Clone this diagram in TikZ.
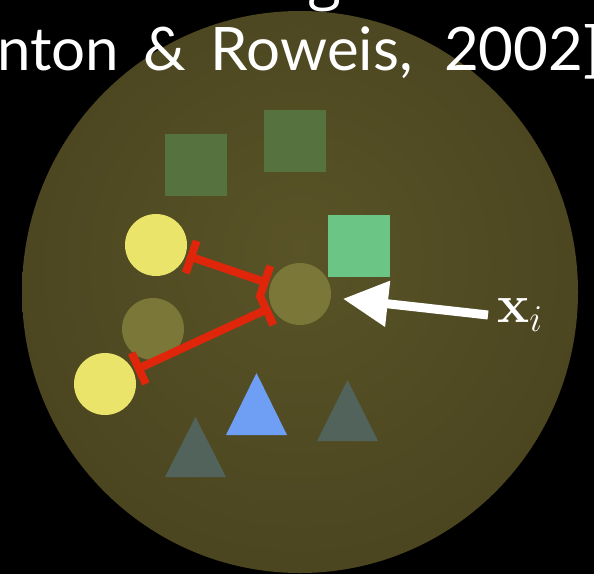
\documentclass[tikz,border=0pt]{standalone}
\usepackage{fix-cm}
\usepackage[no-math]{fontspec}
\newfontfamily\titlefont[WordSpace=1.6]{Lato}
\newfontfamily\gfont{Open Sans}
\usetikzlibrary{arrows.meta,positioning}
\usepackage{xcolor}
\definecolor{sneInner}{RGB}{89,83,39}
\definecolor{sneOuter}{RGB}{62,58,26}
\definecolor{sneYellow}{RGB}{235,228,106}
\definecolor{sneOlive}{RGB}{122,119,56}
\definecolor{sneDull}{RGB}{86,115,63}
\definecolor{sneGreen}{RGB}{107,197,132}
\definecolor{sneBlue}{RGB}{111,158,245}
\definecolor{sneSlate}{RGB}{82,99,91}
\definecolor{sneRed}{RGB}{224,38,10}
\pgfdeclareradialshading{sneglow}{\pgfpoint{0bp}{4bp}}{color(0bp)=(sneInner); color(50bp)=(sneOuter)}
\tikzset{
    dot/.style={
        circle,fill=#1,minimum size=62pt,inner sep=0pt
    },
    dot/.default=sneYellow,
    patch/.style={
        rectangle,fill=#1,minimum size=62pt,inner sep=0pt
    },
    patch/.default=sneDull,
    pull/.style={
        {Bar[width=34pt]}-{Bar[width=34pt]},line width=8pt,draw=sneRed,
        shorten <=2pt,shorten >=2pt
    },
    pointer/.style={
        -{Triangle[length=45pt,width=44pt]},line width=9pt,draw=white,
        shorten >=12pt
    },
    bigtext/.style={
        text=white,inner sep=0pt,font=#1\fontsize{60}{66}\selectfont
    }
}
\begin{document}
\begin{tikzpicture}[x=1pt,y=-1pt]

\useasboundingbox (0,0) rectangle (594,574);
\fill[black] (0,0) rectangle (594,574);
\clip (0,0) rectangle (594,574);

\shade[shading=sneglow] (300,292) ellipse [x radius=278pt,y radius=281pt];

\node[bigtext=\gfont,anchor=base] (gpart) at (325,-3) {g};
\node[bigtext=\titlefont,anchor=base west] (cite) at (-3,70)
{nton \& Roweis,\hspace{7pt} 2002]};

\node[patch] (sqa) at (196,165) {};
\node[patch] (sqb) at (295,141) {};
\node[patch=sneGreen] (sqc) at (359,246) {};

\fill[sneSlate] (165,477) -- (226,477) -- (195.5,417) -- cycle;
\fill[sneBlue] (226,435) -- (287,435) -- (256.5,373) -- cycle;
\fill[sneSlate] (317,441) -- (378,441) -- (347.5,380) -- cycle;

\node[dot] (ya) at (156,245) {};
\node[dot] (yb) at (105,384) {};
\node[dot=sneOlive] (oa) at (153,329) {};
\node[dot=sneOlive] (xi) at (300,294) {};

\node[text=white,font=\fontsize{54}{60}\selectfont,anchor=west,inner sep=9pt]
(xlab) at (488,315) {$\mathbf{x}_i$};

\draw[pull] (ya) -- (xi);
\draw[pull] (yb) -- (xi);
\draw[pointer] (xlab.west) -- (xi);

\end{tikzpicture}
\end{document}
